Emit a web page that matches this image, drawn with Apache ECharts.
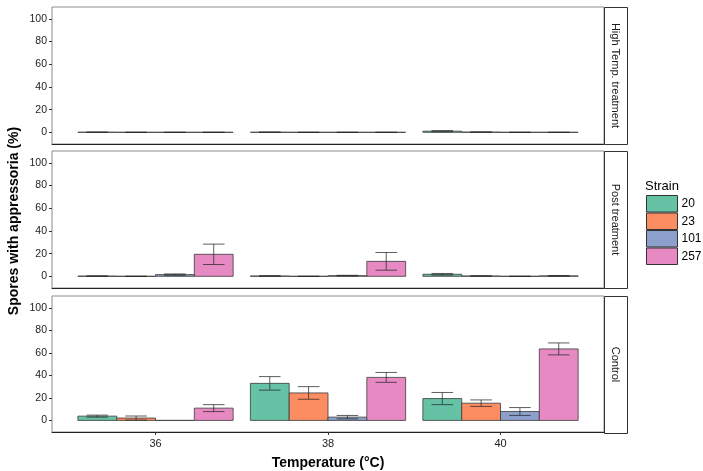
<!DOCTYPE html>
<html>
<head>
<meta charset="utf-8">
<script src="https://cdn.jsdelivr.net/npm/echarts@6/dist/echarts.min.js"></script>
<style>html,body{margin:0;padding:0;background:#fff}#c{width:703px;height:471px}</style>
</head>
<body>
<div id="c"></div>
<script>
// ---- data ----
const temps = ['36', '38', '40'];
const strains = ['20', '23', '101', '257'];
const panels = ['High Temp. treatment', 'Post treatment', 'Control'];
const yTicks = [0, 20, 40, 60, 80, 100];

// High Temp. treatment
const high_20 = [0.1, 0.1, 1.0];   const high_20_err = [0, 0, 0.5];
const high_23 = [0, 0, 0.2];       const high_23_err = [0, 0, 0];
const high_101 = [0, 0, 0];        const high_101_err = [0, 0, 0];
const high_257 = [0, 0, 0];        const high_257_err = [0, 0, 0];

// Post treatment
const post_20 = [0.2, 0.3, 1.8];   const post_20_err = [0.2, 0.2, 0.7];
const post_23 = [0, 0, 0.3];       const post_23_err = [0, 0, 0.2];
const post_101 = [1.5, 0.6, 0];    const post_101_err = [0.6, 0.3, 0];
const post_257 = [19.4, 13.2, 0.4]; const post_257_err = [9, 7.8, 0.3];

// Control
const ctrl_20 = [3.8, 32.9, 19.4];  const ctrl_20_err = [0.9, 6.0, 5.4];
const ctrl_23 = [2.1, 24.4, 15.3];  const ctrl_23_err = [1.8, 5.6, 2.9];
const ctrl_101 = [0, 2.9, 7.9];     const ctrl_101_err = [null, 1.5, 3.5];
const ctrl_257 = [10.9, 38.2, 63.5]; const ctrl_257_err = [3.1, 4.4, 5.3];

const colors = ['#66C2A5', '#FC8D62', '#8DA0CB', '#E78AC3'];

const panelData = [
  [[high_20, high_20_err], [high_23, high_23_err], [high_101, high_101_err], [high_257, high_257_err]],
  [[post_20, post_20_err], [post_23, post_23_err], [post_101, post_101_err], [post_257, post_257_err]],
  [[ctrl_20, ctrl_20_err], [ctrl_23, ctrl_23_err], [ctrl_101, ctrl_101_err], [ctrl_257, ctrl_257_err]]
];

// ---- layout ----
const FONT = 'Liberation Sans, Arial, Helvetica, sans-serif';
const tops = [7, 151, 296];
const PH = 137;
const PL = 52, PW = 552;
const dodge = 0.9, nS = strains.length, bw = dodge / nS;

const grid = [], xAxis = [], yAxis = [], series = [], graphic = [];
panels.forEach((p, i) => {
  grid.push({left: PL, width: PW, top: tops[i], height: PH, show: true,
    borderColor: '#8c8c8c', borderWidth: 1, backgroundColor: '#fff'});
  const bottom = i === panels.length - 1;
  xAxis.push({
    type: 'value', gridIndex: i, min: 0.4, max: 3.6,
    axisLine: {show: true, onZero: false, lineStyle: {color: '#222', width: 1}},
    axisTick: {show: bottom, customValues: [1, 2, 3], length: 3, lineStyle: {color: '#333'}},
    axisLabel: {show: bottom, customValues: [1, 2, 3], formatter: v => temps[Math.round(v) - 1],
      color: '#222', fontSize: 11, fontFamily: FONT, margin: 6},
    splitLine: {show: false},
    name: bottom ? 'Temperature (°C)' : '', nameLocation: 'middle', nameGap: 24,
    nameTextStyle: {fontSize: 14, fontWeight: 'bold', color: '#000', fontFamily: FONT}
  });
  yAxis.push({
    type: 'value', gridIndex: i, min: -10.3, max: 110.5,
    axisLine: {show: false},
    axisTick: {show: true, customValues: yTicks, length: 3, lineStyle: {color: '#333'}},
    axisLabel: {customValues: yTicks, color: '#222', fontSize: 10.5, fontFamily: FONT, margin: 5},
    splitLine: {show: false}
  });
  strains.forEach((s, j) => {
    const [vals, errs] = panelData[i][j];
    series.push({
      type: 'custom', name: s, xAxisIndex: i, yAxisIndex: i,
      itemStyle: {color: colors[j], borderColor: '#333', borderWidth: 1},
      data: vals.map((v, k) => [k + 1, v, errs[k] == null ? -1 : errs[k]]),
      renderItem: (params, api) => {
        const x = api.value(0) + (j - (nS - 1) / 2) * bw;
        const y = api.value(1), e = api.value(2);
        const p0 = api.coord([x - bw / 2, y]);
        const p1 = api.coord([x + bw / 2, 0]);
        const children = [{
          type: 'rect',
          shape: {x: p0[0], y: p0[1], width: p1[0] - p0[0], height: p1[1] - p0[1]},
          style: {fill: api.visual('color'), stroke: '#3a3a3a', lineWidth: 0.8}
        }];
        if (e >= 0) {
          const cw = 0.0625;
          const t = api.coord([x, y + e]), b = api.coord([x, y - e]);
          const l = api.coord([x - cw, 0])[0], r = api.coord([x + cw, 0])[0];
          const st = {stroke: 'rgba(40,40,40,0.75)', lineWidth: 1};
          children.push({type: 'line', shape: {x1: t[0], y1: t[1], x2: b[0], y2: b[1]}, style: st});
          children.push({type: 'line', shape: {x1: l, y1: t[1], x2: r, y2: t[1]}, style: st});
          children.push({type: 'line', shape: {x1: l, y1: b[1], x2: r, y2: b[1]}, style: st});
        }
        return {type: 'group', children};
      }
    });
  });
  // facet strip
  graphic.push({type: 'rect', left: PL + PW, top: tops[i],
    shape: {width: 23, height: PH}, style: {fill: '#fff', stroke: '#333', lineWidth: 1}, z: 10});
  graphic.push({type: 'text', x: PL + PW + 11.5, y: tops[i] + PH / 2, rotation: -Math.PI / 2,
    style: {text: p, fontSize: 11, fontFamily: FONT, fill: '#1a1a1a', align: 'center', verticalAlign: 'middle'}, z: 11});
});

graphic.push({type: 'text', x: 14, y: 221, rotation: Math.PI / 2,
  style: {text: 'Spores with appressoria (%)', fontSize: 14, fontWeight: 'bold', fontFamily: FONT,
    fill: '#000', align: 'center', verticalAlign: 'middle'}});
graphic.push({type: 'text', x: 645, y: 186,
  style: {text: 'Strain', fontSize: 13, fontFamily: FONT, fill: '#000', align: 'left', verticalAlign: 'middle'}});

const chart = echarts.init(document.getElementById('c'), null, {renderer: 'canvas'});
chart.setOption({
  animation: false,
  grid, xAxis, yAxis, series, graphic,
  legend: {
    data: strains, orient: 'vertical', left: 646, top: 195, padding: 0,
    itemWidth: 31, itemHeight: 16.5, itemGap: 0, icon: 'rect',
    itemStyle: {borderColor: '#333', borderWidth: 1},
    textStyle: {fontSize: 12, fontFamily: FONT, color: '#000', padding: [0, 0, 0, -1]},
    selectedMode: false
  }
});
</script>
</body>
</html>
